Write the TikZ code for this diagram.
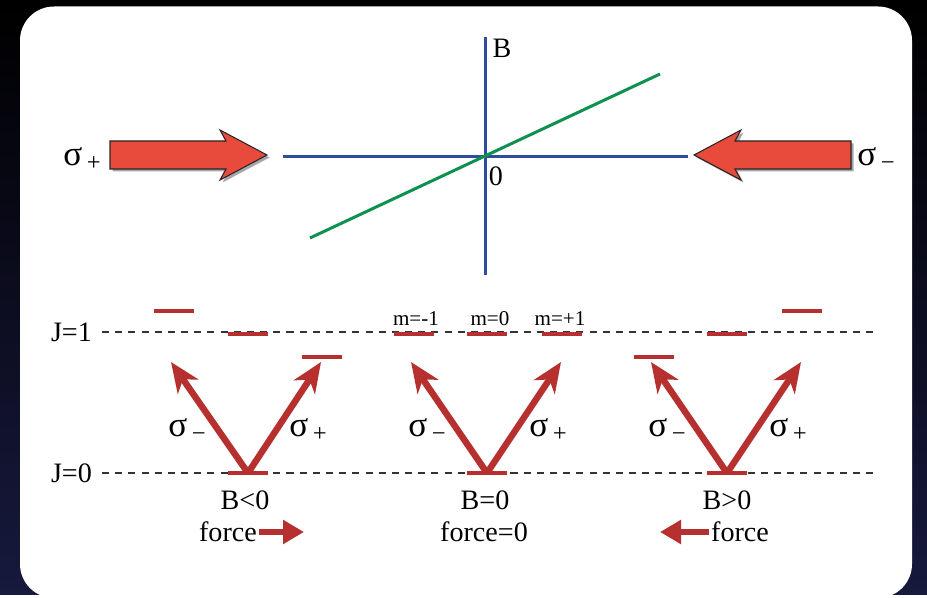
\documentclass[tikz,border=0pt]{standalone}
\usepackage{fontspec}
\setmainfont{Liberation Serif}
\usepackage{tikz}
\usetikzlibrary{arrows.meta,positioning,calc}
\definecolor{axisblue}{HTML}{2F4D9E}
\definecolor{fieldgreen}{HTML}{0E9150}
\definecolor{levelred}{HTML}{B5302F}
\definecolor{beamred}{HTML}{E84B3C}
\definecolor{navy}{HTML}{17193D}
\newcommand{\pol}[1]{{\fontsize{20}{22}\selectfont σ}\,\raisebox{-0.45ex}{\fontsize{14}{16}\selectfont #1}}
\tikzset{
  axis/.style={draw=axisblue,line width=0.06cm},
  field/.style={draw=fieldgreen,line width=0.06cm},
  sublevel/.style={fill=levelred,inner sep=0pt,minimum width=0.8cm,minimum height=0.08cm},
  jline/.style={draw=black!80,line width=0.6pt,dash pattern=on 4pt off 3.5pt},
  transition/.style={-{Stealth[length=6mm,width=5mm,inset=1.8mm]},draw=levelred,line width=0.13cm},
  push/.style={-{Triangle[length=4.2mm,width=4.6mm]},draw=levelred,line width=0.11cm},
  beam/.style={fill=beamred,draw=black!85,line width=0.6pt,line join=miter},
  beamshadow/.style={fill=black!35,draw=none},
  txt/.style={font=\fontsize{16}{18}\selectfont,inner sep=1pt},
  mlabel/.style={font=\fontsize{12}{14}\selectfont,inner sep=1pt}
}

\begin{document}
\begin{tikzpicture}[x=0.02cm,y=-0.02cm]
  % background and slide panel
  \shade[top color=black,bottom color=navy] (0,0) rectangle (927,594);
  \fill[white,rounded corners=0.68cm] (20,6.5) rectangle (912,598);
  \useasboundingbox (0,0) rectangle (927,594);

  % field axes
  \coordinate (origin) at (485,157);
  \draw[axis] (485,37) -- (485,275);
  \draw[axis] (283,157) -- (688,157);
  \draw[field] (310,238) -- (660,74);
  \node[txt] (blabel) at (502,48) {B};
  \node[txt] (zero) at (496,176) {0};

  % laser beams
  \fill[beamshadow,xshift=0.05cm,yshift=-0.05cm]
    (110,141) -- (226,141) -- (220,130) -- (267,155) -- (220,180) -- (226,169) -- (110,169) -- cycle;
  \draw[beam] (110,141) -- (226,141) -- (220,130) -- (267,155) -- (220,180) -- (226,169) -- (110,169) -- cycle;
  \fill[beamshadow,xshift=0.05cm,yshift=-0.05cm]
    (851,141) -- (735,141) -- (741,130) -- (694,155) -- (741,180) -- (735,169) -- (851,169) -- cycle;
  \draw[beam] (851,141) -- (735,141) -- (741,130) -- (694,155) -- (741,180) -- (735,169) -- (851,169) -- cycle;
  \node[txt] (splus) at (82,159) {\pol{+}};
  \node[txt] (sminus) at (876,159) {\pol{−}};

  % J levels
  \node[txt,anchor=east] (j1) at (94,332) {J=1};
  \node[txt,anchor=east] (j0) at (94,473) {J=0};
  \coordinate (j1end) at (873,332);
  \coordinate (j0end) at (873,473);
  \draw[jline] (j1.east) ++(8,0) -- (j1end);
  \draw[jline] (j0.east) ++(8,0) -- (j0end);

  % B<0
  \node[sublevel] (a-1) at (174,311) {};
  \node[sublevel] (a0) at (248,334) {};
  \node[sublevel] (a+1) at (322,357) {};
  \node[sublevel] (ag) at (248,473) {};
  \coordinate (ta) at (171,362);
  \coordinate (tb) at (321,362);
  \draw[transition] (ag.center) -- (ta);
  \draw[transition] (ag.center) -- (tb);
  \node[txt] (asm) at (187,430) {\pol{−}};
  \node[txt] (asp) at (308,430) {\pol{+}};
  \node[txt] (acase) at (245,500) {B<0};
  \node[txt] (aforce) at (228,532) {force};
  \coordinate (aend) at (304,532);
  \draw[push] (aforce.east) -- (aend);

  % B=0
  \node[sublevel] (b-1) at (414,334) {};
  \node[sublevel] (b0) at (487,334) {};
  \node[sublevel] (b+1) at (562,334) {};
  \node[sublevel] (bg) at (487,473) {};
  \node[mlabel] (m-1) at (416,319) {m=-1};
  \node[mlabel] (m0) at (490,319) {m=0};
  \node[mlabel] (m+1) at (560,319) {m=+1};
  \coordinate (tc) at (411,362);
  \coordinate (td) at (561,362);
  \draw[transition] (bg.center) -- (tc);
  \draw[transition] (bg.center) -- (td);
  \node[txt] (bsm) at (427,430) {\pol{−}};
  \node[txt] (bsp) at (548,430) {\pol{+}};
  \node[txt] (bcase) at (485,500) {B=0};
  \node[txt] (bforce) at (484,532) {force=0};

  % B>0
  \node[sublevel] (c-1) at (654,357) {};
  \node[sublevel] (c0) at (727,334) {};
  \node[sublevel] (c+1) at (802,311) {};
  \node[sublevel] (cg) at (727,473) {};
  \coordinate (te) at (651,362);
  \coordinate (tf) at (801,362);
  \draw[transition] (cg.center) -- (te);
  \draw[transition] (cg.center) -- (tf);
  \node[txt] (csm) at (667,430) {\pol{−}};
  \node[txt] (csp) at (788,430) {\pol{+}};
  \node[txt] (ccase) at (727,500) {B>0};
  \node[txt] (cforce) at (740,532) {force};
  \coordinate (cend) at (660,532);
  \draw[push] (cforce.west) -- (cend);
\end{tikzpicture}
\end{document}
